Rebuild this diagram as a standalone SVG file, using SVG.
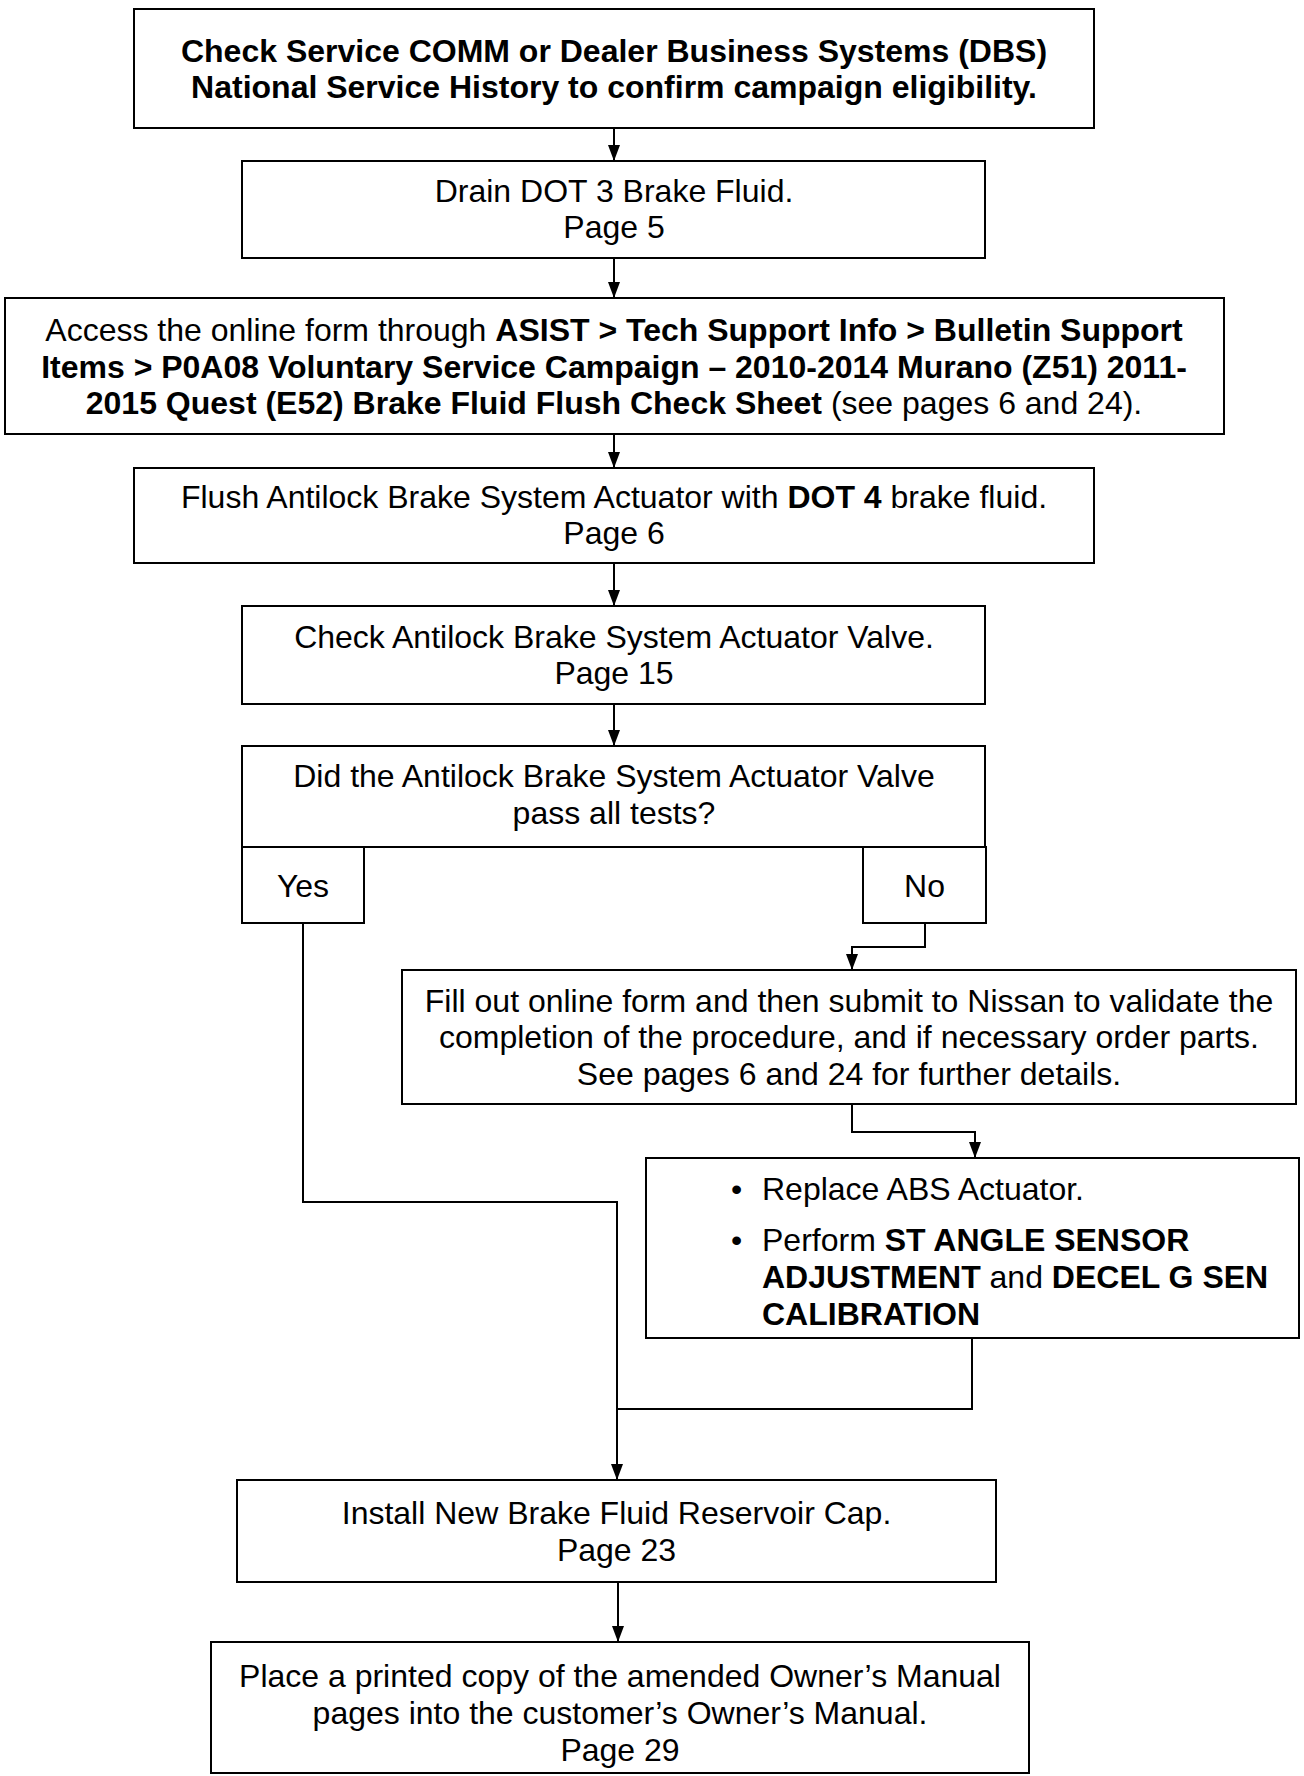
<svg xmlns="http://www.w3.org/2000/svg" width="1304" height="1776" viewBox="0 0 1304 1776">
<style>
  .box { fill: #fff; stroke: #000; stroke-width: 2; }
  .t { font-family: "Liberation Sans", Arial, sans-serif; font-size: 32px; fill: #000; }
  .c { text-anchor: middle; }
  .b { font-weight: bold; }
  .ln { fill: none; stroke: #000; stroke-width: 2; }
</style>
<defs>
  <marker id="ah" viewBox="0 0 16 12" refX="16" refY="6" markerWidth="16" markerHeight="12" markerUnits="userSpaceOnUse" orient="auto">
    <path d="M0,0 L16,6 L0,12 Z" fill="#000"/>
  </marker>
</defs>

<g id="connectors">
  <path class="ln" d="M614,128 V161" marker-end="url(#ah)"/>
  <path class="ln" d="M614,258 V298" marker-end="url(#ah)"/>
  <path class="ln" d="M614,434 V468" marker-end="url(#ah)"/>
  <path class="ln" d="M614,563 V606" marker-end="url(#ah)"/>
  <path class="ln" d="M614,704 V746" marker-end="url(#ah)"/>
  <path class="ln" d="M925,923 V947 H852 V970" marker-end="url(#ah)"/>
  <path class="ln" d="M852,1104 V1132 H975 V1158" marker-end="url(#ah)"/>
  <path class="ln" d="M303,923 V1202 H617 V1480" marker-end="url(#ah)"/>
  <path class="ln" d="M972,1338 V1409 H617"/>
  <path class="ln" d="M618,1582 V1642" marker-end="url(#ah)"/>
</g>

<g id="n1">
  <rect class="box" x="134" y="9" width="960" height="119"/>
  <text class="t c b" x="614" y="62">Check Service COMM or Dealer Business Systems (DBS)</text>
  <text class="t c b" x="614" y="98">National Service History to confirm campaign eligibility.</text>
</g>

<g id="n2">
  <rect class="box" x="242" y="161" width="743" height="97"/>
  <text class="t c" x="614" y="202">Drain DOT 3 Brake Fluid.</text>
  <text class="t c" x="614" y="238">Page 5</text>
</g>

<g id="n3">
  <rect class="box" x="5" y="298" width="1219" height="136"/>
  <text class="t c" x="614" y="341">Access the online form through <tspan class="b">ASIST &gt; Tech Support Info &gt; Bulletin Support</tspan></text>
  <text class="t c b" x="614" y="378">Items &gt; P0A08 Voluntary Service Campaign – 2010-2014 Murano (Z51) 2011-</text>
  <text class="t c" x="614" y="414"><tspan class="b">2015 Quest (E52) Brake Fluid Flush Check Sheet</tspan> (see pages 6 and 24).</text>
</g>

<g id="n4">
  <rect class="box" x="134" y="468" width="960" height="95"/>
  <text class="t c" x="614" y="508">Flush Antilock Brake System Actuator with <tspan class="b">DOT 4</tspan> brake fluid.</text>
  <text class="t c" x="614" y="544">Page 6</text>
</g>

<g id="n5">
  <rect class="box" x="242" y="606" width="743" height="98"/>
  <text class="t c" x="614" y="648">Check Antilock Brake System Actuator Valve.</text>
  <text class="t c" x="614" y="684">Page 15</text>
</g>

<g id="n6">
  <rect class="box" x="242" y="746" width="743" height="101"/>
  <text class="t c" x="614" y="787">Did the Antilock Brake System Actuator Valve</text>
  <text class="t c" x="614" y="824">pass all tests?</text>
</g>

<g id="n6yes">
  <rect class="box" x="242" y="847" width="122" height="76"/>
  <text class="t c" x="303" y="897">Yes</text>
</g>

<g id="n6no">
  <rect class="box" x="863" y="847" width="123" height="76"/>
  <text class="t c" x="924.5" y="897">No</text>
</g>

<g id="n7">
  <rect class="box" x="402" y="970" width="894" height="134"/>
  <text class="t c" x="849" y="1012">Fill out online form and then submit to Nissan to validate the</text>
  <text class="t c" x="849" y="1048">completion of the procedure, and if necessary order parts.</text>
  <text class="t c" x="849" y="1085">See pages 6 and 24 for further details.</text>
</g>

<g id="n8">
  <rect class="box" x="646" y="1158" width="653" height="180"/>
  <text class="t" x="731" y="1200">•</text>
  <text class="t" x="762" y="1200">Replace ABS Actuator.</text>
  <text class="t" x="731" y="1251">•</text>
  <text class="t" x="762" y="1251">Perform <tspan class="b">ST ANGLE SENSOR</tspan></text>
  <text class="t" x="762" y="1288"><tspan class="b">ADJUSTMENT</tspan> and <tspan class="b">DECEL G SEN</tspan></text>
  <text class="t b" x="762" y="1325">CALIBRATION</text>
</g>

<g id="n9">
  <rect class="box" x="237" y="1480" width="759" height="102"/>
  <text class="t c" x="616.5" y="1524">Install New Brake Fluid Reservoir Cap.</text>
  <text class="t c" x="616.5" y="1561">Page 23</text>
</g>

<g id="n10">
  <rect class="box" x="211" y="1642" width="818" height="131"/>
  <text class="t c" x="620" y="1687">Place a printed copy of the amended Owner’s Manual</text>
  <text class="t c" x="620" y="1724">pages into the customer’s Owner’s Manual.</text>
  <text class="t c" x="620" y="1761">Page 29</text>
</g>
</svg>
